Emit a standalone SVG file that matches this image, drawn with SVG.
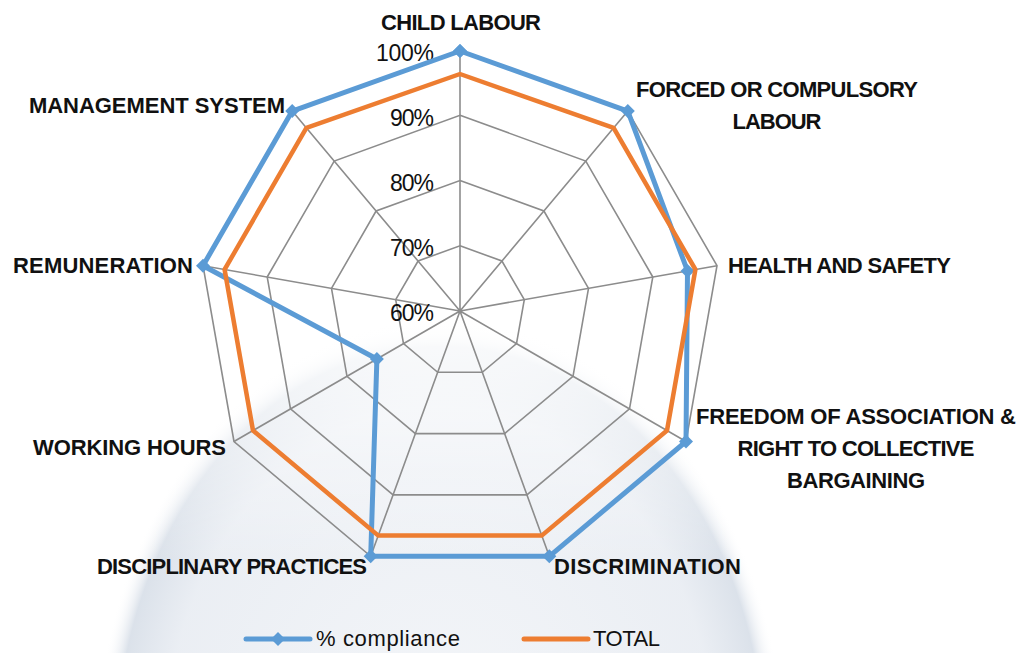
<svg xmlns="http://www.w3.org/2000/svg" width="1018" height="653" viewBox="0 0 1018 653">
<defs>
<radialGradient id="globe" cx="0.5" cy="0.5" r="0.5">
<stop offset="0" stop-color="#e8ecf2" stop-opacity="0.5"/>
<stop offset="0.8" stop-color="#dde3ec" stop-opacity="0.6"/>
<stop offset="0.94" stop-color="#c8d2df" stop-opacity="0.65"/>
<stop offset="1" stop-color="#ffffff" stop-opacity="0"/>
</radialGradient>
<linearGradient id="fade" x1="0" y1="0" x2="0" y2="1">
<stop offset="0" stop-color="#fff" stop-opacity="1"/>
<stop offset="0.6" stop-color="#fff" stop-opacity="0.85"/>
<stop offset="1" stop-color="#fff" stop-opacity="0"/>
</linearGradient>
<marker id="dia" viewBox="-8 -8 16 16" markerWidth="16" markerHeight="16" markerUnits="userSpaceOnUse" refX="0" refY="0" orient="0">
<path d="M0,-7 L7,0 L0,7 L-7,0 Z" fill="#5b9bd5"/>
</marker>
</defs>
<style>
.grid{fill:none;stroke:#8c8c8c;stroke-width:1.6}
.lbl{font-family:"Liberation Sans",Arial,sans-serif;font-weight:bold;font-size:22px;fill:#111}
.tick{font-family:"Liberation Sans",Arial,sans-serif;font-size:23px;fill:#111;text-anchor:end}
.leg{font-family:"Liberation Sans",Arial,sans-serif;font-size:22px;fill:#111}
.blue{fill:none;stroke:#5b9bd5;stroke-width:5;stroke-linejoin:round}
.orange{fill:none;stroke:#ed7d31;stroke-width:4.5;stroke-linejoin:round}
</style>
<rect width="1018" height="653" fill="#ffffff"/>
<ellipse cx="440" cy="760" rx="345" ry="440" fill="url(#globe)"/>
<rect x="0" y="0" width="1018" height="560" fill="url(#fade)"/>

<g id="grid">
<polygon class="grid" points="460,50 627.8,111.1 717,265.7 686,441.5 549.3,556.3 370.7,556.3 234,441.5 203,265.7 292.2,111.1"/>
<polygon class="grid" points="460,115.25 585.8,161.1 652.8,277 629.5,408.9 526.9,494.9 393.1,494.9 290.5,408.9 267.2,277 334.2,161.1"/>
<polygon class="grid" points="460,180.5 543.9,211 588.5,288.3 573,376.3 504.6,433.6 415.4,433.6 347,376.3 331.5,288.3 376.1,211"/>
<polygon class="grid" points="460,245.75 501.9,261 524.3,299.7 516.5,343.6 482.3,372.3 437.7,372.3 403.5,343.6 395.7,299.7 418.1,261"/>
<path class="grid" d="M460,311 L460,50 M460,311 L627.8,111.1 M460,311 L717,265.7 M460,311 L686,441.5 M460,311 L549.3,556.3 M460,311 L370.7,556.3 M460,311 L234,441.5 M460,311 L203,265.7 M460,311 L292.2,111.1"/>
</g>

<g id="ticks">
<text class="tick" x="434" y="61" textLength="58">100%</text>
<text class="tick" x="434" y="126" textLength="44">90%</text>
<text class="tick" x="434" y="191" textLength="44">80%</text>
<text class="tick" x="434" y="256" textLength="44">70%</text>
<text class="tick" x="434" y="321" textLength="44">60%</text>
</g>

<g id="connectors">
<polygon id="series-compliance" class="blue" points="460,51 627.8,111.1 687.5,270.9 686,441.5 549.3,556.3 370.7,556.3 376.9,359 203,265.7 292.2,111.1" marker-start="url(#dia)" marker-mid="url(#dia)" marker-end="url(#dia)"/>
<polygon id="series-total" class="orange" points="460,74 613.6,127.9 695.4,269.5 667,430.5 541.7,535.6 378.3,535.6 253,430.5 224.6,269.5 306.4,127.9"/>
</g>

<g id="labels">
<g id="n-child"><text class="lbl" x="461" y="30" text-anchor="middle" textLength="160">CHILD LABOUR</text></g>
<g id="n-forced"><text class="lbl" x="777" y="97" text-anchor="middle" textLength="282">FORCED OR COMPULSORY</text>
<text class="lbl" x="777" y="129" text-anchor="middle" textLength="89">LABOUR</text></g>
<g id="n-health"><text class="lbl" x="728" y="273" textLength="223">HEALTH AND SAFETY</text></g>
<g id="n-freedom"><text class="lbl" x="856" y="424" text-anchor="middle" textLength="320">FREEDOM OF ASSOCIATION &amp;</text>
<text class="lbl" x="856" y="456" text-anchor="middle" textLength="237">RIGHT TO COLLECTIVE</text>
<text class="lbl" x="856" y="488" text-anchor="middle" textLength="138">BARGAINING</text></g>
<g id="n-discrimination"><text class="lbl" x="554" y="574" textLength="187">DISCRIMINATION</text></g>
<g id="n-disciplinary"><text class="lbl" x="367" y="574" text-anchor="end" textLength="270">DISCIPLINARY PRACTICES</text></g>
<g id="n-working"><text class="lbl" x="226" y="455" text-anchor="end" textLength="193">WORKING HOURS</text></g>
<g id="n-remuneration"><text class="lbl" x="193" y="273" text-anchor="end" textLength="180">REMUNERATION</text></g>
<g id="n-management"><text class="lbl" x="285" y="113" text-anchor="end" textLength="256">MANAGEMENT SYSTEM</text></g>
</g>

<g id="legend">
<line x1="246" y1="639" x2="310" y2="639" stroke="#5b9bd5" stroke-width="5" stroke-linecap="round"/>
<path d="M278,632 L285,639 L278,646 L271,639 Z" fill="#5b9bd5"/>
<text class="leg" x="316" y="646" textLength="144">% compliance</text>
<line x1="524" y1="639" x2="588" y2="639" stroke="#ed7d31" stroke-width="5" stroke-linecap="round"/>
<text class="leg" x="593" y="646" textLength="67">TOTAL</text>
</g>
</svg>
